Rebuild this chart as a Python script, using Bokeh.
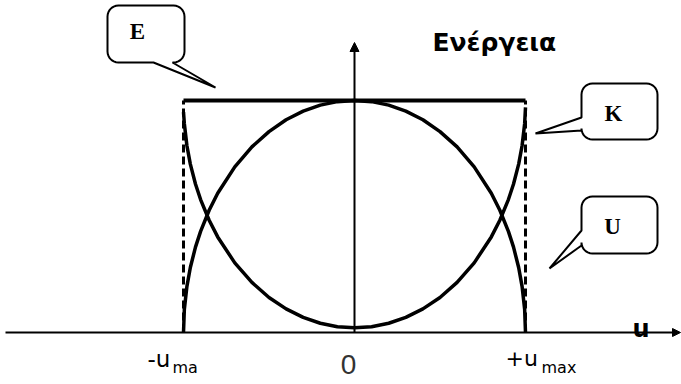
import numpy as np
from bokeh.plotting import figure
from bokeh.models import Range1d, Arrow, NormalHead, Label
from bokeh.embed import file_html
from bokeh.resources import INLINE

# ---------------- data ----------------
umax = 1.0          # amplitude
E_total = 1.0       # total energy
u_vals = [-1.0, -0.995, -0.98, -0.96, -0.93, -0.9, -0.85, -0.8, -0.7, -0.6, -0.5, -0.4,
          -0.3, -0.2, -0.1, 0.0, 0.1, 0.2, 0.3, 0.4, 0.5, 0.6, 0.7, 0.8, 0.85, 0.9,
          0.93, 0.96, 0.98, 0.995, 1.0]
K_vals = [0.0, 0.10, 0.199, 0.28, 0.368, 0.436, 0.527, 0.60, 0.714, 0.80, 0.866, 0.917,
          0.954, 0.98, 0.995, 1.0, 0.995, 0.98, 0.954, 0.917, 0.866, 0.80, 0.714, 0.60,
          0.527, 0.436, 0.368, 0.28, 0.199, 0.10, 0.0]
U_vals = [0.95, 0.90, 0.805, 0.726, 0.64, 0.573, 0.484, 0.412, 0.30, 0.216, 0.151, 0.102,
          0.065, 0.04, 0.025, 0.02, 0.025, 0.04, 0.065, 0.102, 0.151, 0.216, 0.30, 0.412,
          0.484, 0.573, 0.64, 0.726, 0.805, 0.90, 0.97]
tick_labels = [("-u", "ma"), ("0", ""), ("+u", "max")]
title_text = "Ενέργεια"
axis_label = "u"
callout_texts = ["E", "K", "U"]

# ---------------- layout helpers (page pixel -> data) ----------------
W, H = 681, 384
X0PX, XS = 354.0, 171.0    # page pixel of u=0, pixels per unit u
Y0PX, YS = 332.0, 232.0    # page pixel of E=0, pixels per unit E
TY = 9                     # baseline correction for text


def px(x):
    return (x - X0PX) / XS


def py(y):
    return (Y0PX - y) / YS


def ty(y):
    return py(y - TY)


p = figure(width=W, height=H, output_backend="svg", toolbar_location=None,
           x_range=Range1d(px(0), px(W)), y_range=Range1d(py(H), py(0)),
           min_border=0, min_border_left=0, min_border_right=0,
           min_border_top=0, min_border_bottom=0)
p.axis.visible = False
p.grid.visible = False
p.outline_line_color = None
p.background_fill_color = "white"
p.border_fill_color = "white"

# axes with arrows
p.add_layout(Arrow(x_start=px(5), y_start=0, x_end=px(680), y_end=0,
                   line_width=2, line_color="black",
                   end=NormalHead(size=8, fill_color="black", line_color="black")))
p.add_layout(Arrow(x_start=0, y_start=0, x_end=0, y_end=py(42),
                   line_width=2, line_color="black",
                   end=NormalHead(size=9, fill_color="black", line_color="black")))

# dashed limits at +-umax
p.segment(x0=[-umax, umax], y0=[0, 0], x1=[-umax, umax], y1=[E_total, E_total],
          line_color="black", line_width=3, line_dash="8 4")

# energy curves
p.line(u_vals, K_vals, line_color="black", line_width=3.5)
p.line(u_vals, U_vals, line_color="black", line_width=3.5)
# total energy
p.line([-umax, umax], [E_total, E_total], line_color="black", line_width=4)


# callouts
def callout(x0, x1, y0, y1, r, side, a, b, tip):
    pts = []
    def arc(cx, cy, a0, a1):
        for t in np.linspace(np.radians(a0), np.radians(a1), 8):
            pts.append((cx + r * np.cos(t), cy + r * np.sin(t)))
    arc(x0 + r, y0 + r, 180, 270)
    arc(x1 - r, y0 + r, 270, 360)
    arc(x1 - r, y1 - r, 0, 90)
    if side == "bottom":
        pts += [(a, y1), tip, (b, y1)]
    arc(x0 + r, y1 - r, 90, 180)
    if side == "left":
        pts += [(x0, a), tip, (x0, b)]
    xs = [px(q[0]) for q in pts]
    ys = [py(q[1]) for q in pts]
    p.patch(xs, ys, fill_color="white", line_color="black", line_width=2)


callout(107, 184, 5, 62, 11, "bottom", 172, 153, (215, 87))
callout(581, 657, 83, 139, 11, "left", 130, 117, (535, 133))
callout(581, 657, 196, 253, 11, "left", 245, 230, (549, 268))

for txt, (cx, cy) in zip(callout_texts, [(137, 40), (613, 122), (612, 235)]):
    p.add_layout(Label(x=px(cx), y=ty(cy), text=txt, text_font="Liberation Serif",
                       text_font_style="bold", text_font_size="23px",
                       text_align="center", text_baseline="alphabetic",
                       text_color="black"))

# title
p.add_layout(Label(x=px(432), y=ty(51), text=title_text, text_font="DejaVu Sans",
                   text_font_style="bold", text_font_size="25px",
                   text_baseline="alphabetic", text_color="black"))

# axis label
p.add_layout(Label(x=px(632), y=ty(337), text=axis_label, text_font="DejaVu Sans",
                   text_font_style="bold", text_font_size="24px",
                   text_baseline="alphabetic", text_color="black"))

# tick labels
(m_main, m_sub), (z_main, _), (p_main, p_sub) = tick_labels
p.add_layout(Label(x=px(147), y=ty(367), text=m_main, text_font="DejaVu Sans",
                   text_font_size="23px", text_baseline="alphabetic", text_color="black"))
p.add_layout(Label(x=px(172), y=ty(376), text=m_sub, text_font="DejaVu Sans",
                   text_font_size="16px", text_baseline="alphabetic", text_color="black"))
p.add_layout(Label(x=px(348), y=ty(373), text=z_main, text_font="Liberation Sans",
                   text_font_size="28px", text_align="center",
                   text_baseline="alphabetic", text_color="#333333"))
p.add_layout(Label(x=px(505), y=ty(367), text=p_main, text_font="DejaVu Sans",
                   text_font_size="22px", text_baseline="alphabetic", text_color="black"))
p.add_layout(Label(x=px(541), y=ty(376), text=p_sub, text_font="DejaVu Sans",
                   text_font_size="16px", text_baseline="alphabetic", text_color="black"))

open("out.html", "w").write(file_html(p, INLINE))
